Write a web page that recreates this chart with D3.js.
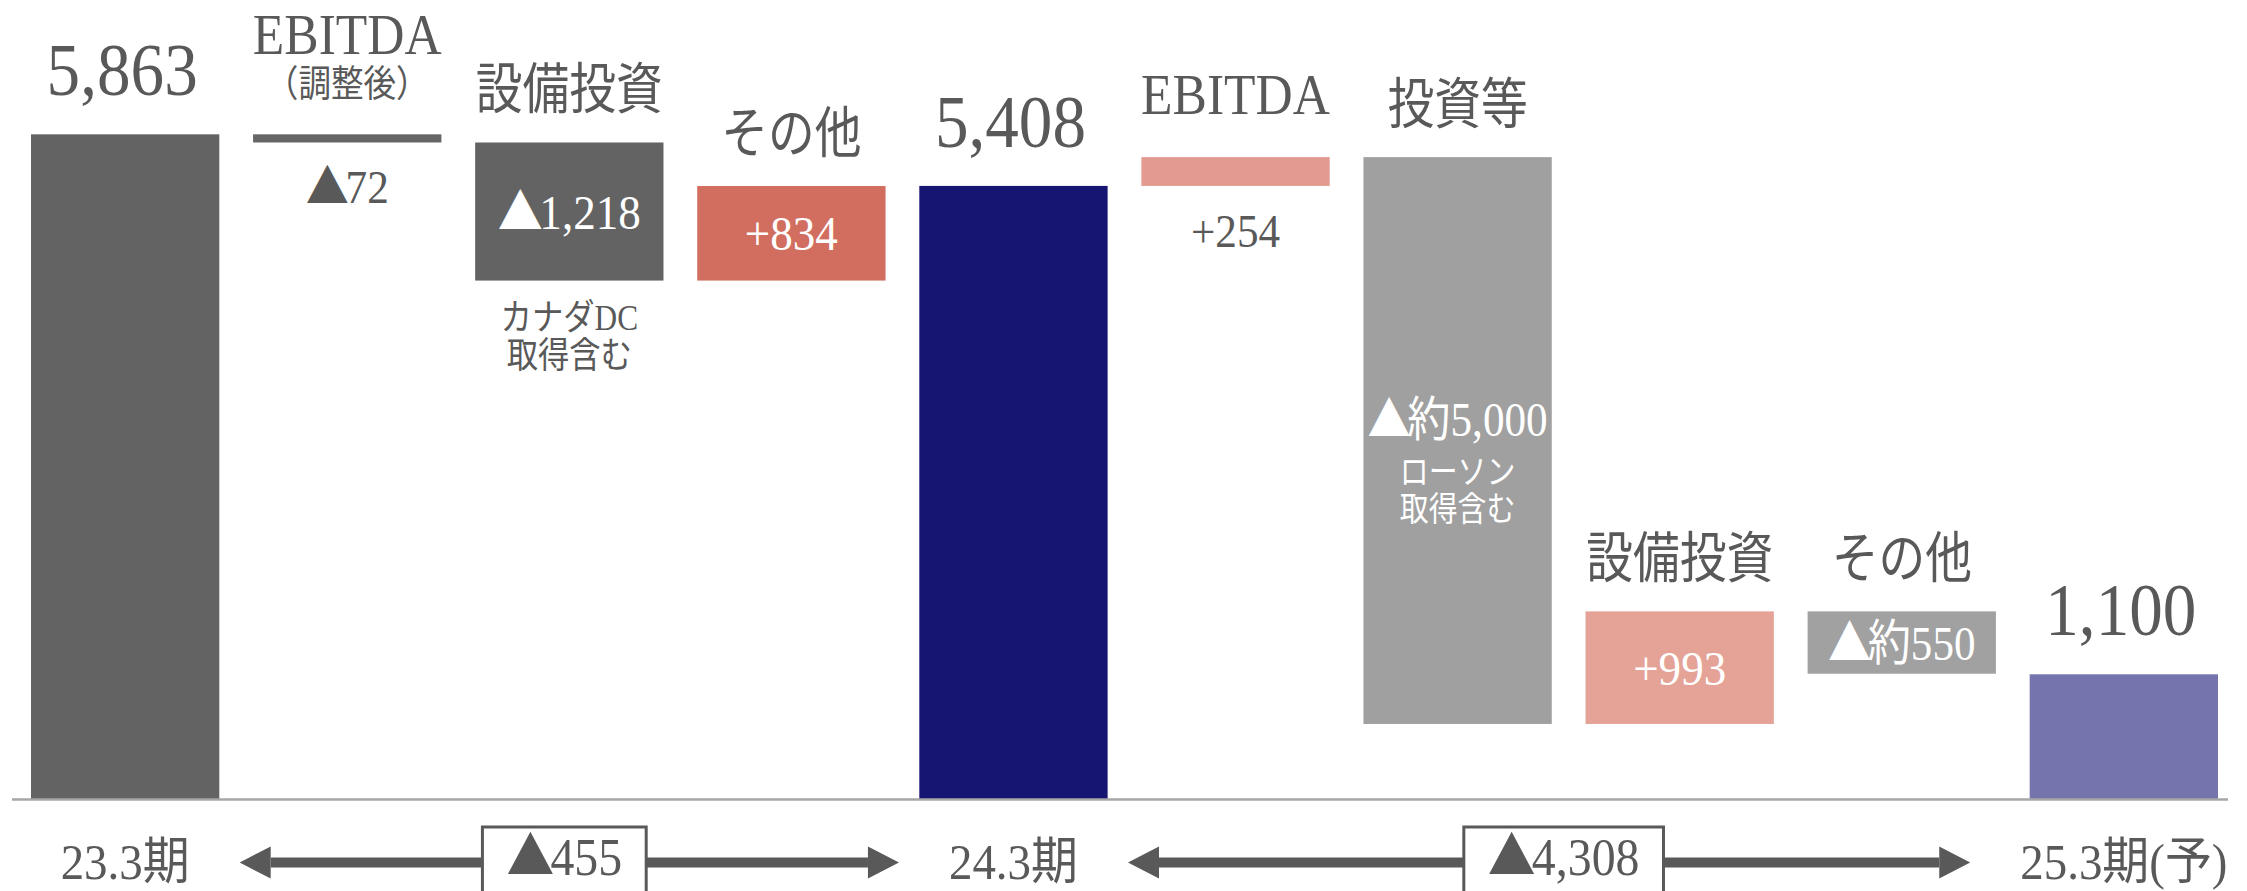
<!DOCTYPE html>
<html>
<head>
<meta charset="utf-8">
<script src="https://cdn.jsdelivr.net/npm/d3@7"></script>
<style>
  html, body { margin: 0; padding: 0; background: #ffffff; }
  svg { display: block; }
  text { font-family: "Liberation Serif", "Noto Sans CJK JP", serif; }
  .cjk { font-family: "Noto Sans CJK JP", sans-serif; }
</style>
</head>
<body>
<svg id="chart" width="2247" height="891"></svg>
<script>
// Free cash flow bridge: 23.3期 → 24.3期 → 25.3期(予)
const stepHeaders = ["", "EBITDA\n（調整後）", "設備投資", "その他", "", "EBITDA", "投資等", "設備投資", "その他", ""];
const periodLabels = ["23.3期", "", "", "", "24.3期", "", "", "", "", "25.3期(予)"];
const stepKinds = ["total", "delta", "delta", "delta", "total", "delta", "delta", "delta", "delta", "total"];
const stepValues = [5863, -72, -1218, 834, 5408, 254, -5000, 993, -550, 1100];
const valueLabels = ["5,863", "▲72", "▲1,218", "+834", "5,408", "+254", "▲約5,000", "+993", "▲約550", "1,100"];
const stepNotes = ["", "", "カナダDC\n取得含む", "", "", "", "ローソン\n取得含む", "", "", ""];

// Change between consecutive fiscal years
const changeFrom = [0, 4];
const changeTo = [4, 9];
const changeLabels = ["▲455", "▲4,308"];

const barFill = ["#636363", "#666666", "#636363", "#d16e5f", "#171572",
                 "#e39a90", "#a0a0a0", "#e5a397", "#a1a1a1", "#7674ac"];
const inkDark = "#595959";

const W = 2247, H = 891;
const svg = d3.select("#chart");

const x = d3.scaleBand()
  .domain(d3.range(stepValues.length))
  .range([31, 2218])
  .paddingInner(0.152)
  .paddingOuter(0);

const y = d3.scaleLinear().domain([0, 6000]).range([799, 118.8]);

// Running totals for the floating segments
let running = 0;
const bars = stepValues.map((v, i) => {
  let lo, hi;
  if (stepKinds[i] === "total") {
    lo = 0; hi = v; running = v;
  } else {
    const start = running, end = running + v;
    lo = Math.min(start, end); hi = Math.max(start, end);
    running = end;
  }
  return { i, v, lo, hi };
});

// Text with horizontal condensing; triangle marks use the CJK face
function addText(parent, tx, ty, str, size, color, sx, anchor) {
  const t = parent.append("text")
    .attr("transform", `translate(${tx},${ty}) scale(${sx},1)`)
    .attr("text-anchor", anchor || "middle")
    .attr("font-size", size)
    .attr("fill", color);
  const parts = str.split(/(▲)/).filter(s => s.length);
  parts.forEach((p, k) => {
    const ts = t.append("tspan").text(p);
    if (p === "▲") ts.attr("class", "cjk");
    if (k > 0 && parts[k - 1] === "▲") ts.attr("dx", "-0.08em");
  });
  return t;
}

// Bars
svg.append("g").selectAll("rect")
  .data(bars)
  .join("rect")
  .attr("x", d => x(d.i))
  .attr("width", x.bandwidth())
  .attr("y", d => y(d.hi))
  .attr("height", d => y(d.lo) - y(d.hi))
  .attr("fill", d => barFill[d.i]);

// Baseline
svg.append("line")
  .attr("x1", x(0) - 19).attr("x2", x.range()[1] + 10)
  .attr("y1", y(0) + 0.5).attr("y2", y(0) + 0.5)
  .attr("stroke", "#a6a6a6").attr("stroke-width", 2.5);

const labels = svg.append("g");

bars.forEach(d => {
  const cx = x(d.i) + x.bandwidth() / 2;
  const top = y(d.hi), bottom = y(d.lo);
  const h = bottom - top;
  const mid = (top + bottom) / 2;

  if (stepKinds[d.i] === "total") {
    addText(labels, cx - 3, top - 39, valueLabels[d.i], 73, inkDark, 0.92);
    return;
  }

  // Step header above the floating segment
  const lines = stepHeaders[d.i].split("\n");
  lines.forEach((ln, k) => {
    const fromBottom = lines.length - 1 - k;
    const latin = /^[A-Z]+$/.test(ln);
    if (lines.length > 1) {
      if (fromBottom === 0) addText(labels, cx, top - 37, ln, 37, inkDark, 0.88);
      else addText(labels, cx, top - 80, ln, 56, inkDark, 0.92);
    } else if (latin) {
      addText(labels, cx, top - 43, ln, 56, inkDark, 0.92);
    } else {
      addText(labels, cx, top - 34, ln, 55, inkDark, 0.85);
    }
  });

  const note = stepNotes[d.i] ? stepNotes[d.i].split("\n") : [];
  const hasCjk = /約/.test(valueLabels[d.i]);
  if (h < 40) {
    addText(labels, cx, bottom + 61, valueLabels[d.i], 47, inkDark, 0.92);
  } else if (note.length && h > 300) {
    addText(labels, cx, mid - 5, valueLabels[d.i], 48, "#ffffff", 0.9);
    note.forEach((ln, k) => addText(labels, cx, mid + 43 + k * 37, ln, 34, "#ffffff", 0.85));
  } else {
    addText(labels, cx, mid + 17, valueLabels[d.i], 49, "#ffffff", hasCjk ? 0.88 : 0.92);
    note.forEach((ln, k) => addText(labels, cx, bottom + 49 + k * 38, ln, 36, inkDark, 0.87));
  }
});

// Fiscal year labels under the axis
const periodNodes = [];
periodLabels.forEach((lab, i) => {
  if (!lab) return;
  const cx = x(i) + x.bandwidth() / 2;
  const t = addText(labels, cx, 879, lab, 51, inkDark, 0.92);
  const w = t.node().getBBox().width * 0.92;
  let left = cx - w / 2;
  if (cx + w / 2 > W - 8) {
    left = W - 8 - w;
    t.attr("transform", `translate(${left + w / 2},879) scale(0.92,1)`);
  }
  periodNodes[i] = { left, right: left + w };
});

// Year-over-year change arrows with boxed totals
const arrowY = 862.5, shaft = 10, headLen = 31, headHalf = 16, labelGap = 50;
const arrows = svg.append("g");

changeFrom.forEach((f, k) => {
  const t = changeTo[k];
  const x0 = periodNodes[f].right + labelGap;
  const x1 = periodNodes[t].left - labelGap;

  arrows.append("rect")
    .attr("x", x0 + headLen).attr("width", x1 - x0 - 2 * headLen)
    .attr("y", arrowY - shaft / 2).attr("height", shaft)
    .attr("fill", inkDark);
  arrows.append("path")
    .attr("d", `M${x0},${arrowY} L${x0 + headLen},${arrowY - headHalf} L${x0 + headLen},${arrowY + headHalf} Z`)
    .attr("fill", inkDark);
  arrows.append("path")
    .attr("d", `M${x1},${arrowY} L${x1 - headLen},${arrowY - headHalf} L${x1 - headLen},${arrowY + headHalf} Z`)
    .attr("fill", inkDark);

  const centerIdx = (f + t) / 2;
  const bx = x(0) + x.bandwidth() / 2 + x.step() * centerIdx - 5;
  const box = arrows.append("rect").attr("fill", "#ffffff")
    .attr("stroke", inkDark).attr("stroke-width", 3);
  const txt = addText(arrows, bx, 875, changeLabels[k], 52, inkDark, 0.92);
  const tw = txt.node().getBBox().width * 0.92;
  box.attr("x", bx - tw / 2 - 24).attr("width", tw + 48)
     .attr("y", 827).attr("height", 80);
  txt.raise();
});
</script>
</body>
</html>
